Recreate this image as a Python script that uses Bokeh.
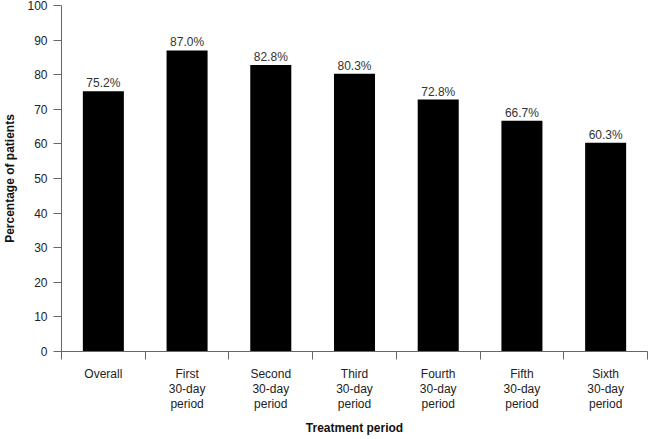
from bokeh.plotting import figure
from bokeh.models import Range1d, FixedTicker, ColumnDataSource
from bokeh.embed import file_html
from bokeh.resources import INLINE
from bokeh.core.properties import value

categories = ["Overall", "First\n30-day\nperiod", "Second\n30-day\nperiod", "Third\n30-day\nperiod",
              "Fourth\n30-day\nperiod", "Fifth\n30-day\nperiod", "Sixth\n30-day\nperiod"]
percentages = [75.2, 87.0, 82.8, 80.3, 72.8, 66.7, 60.3]
y_ticks = [0, 10, 20, 30, 40, 50, 60, 70, 80, 90, 100]

xs = [i + 0.5 for i in range(len(categories))]
src = ColumnDataSource(dict(x=xs, y=percentages, lab=[f"{v:.1f}%" for v in percentages]))

FONT = "Liberation Sans"
AX = "#666666"

p = figure(width=648, height=438, output_backend="svg", toolbar_location=None,
           x_range=Range1d(0, len(categories)), y_range=Range1d(0, 100),
           min_border_left=59, min_border_right=1, min_border_top=5, min_border_bottom=0)
p.outline_line_color = None
p.xgrid.visible = False
p.ygrid.visible = False

p.vbar(x="x", top="y", width=0.49, bottom=0, source=src, fill_color="black", line_color=None)
p.text(x="x", y="y", text="lab", source=src, text_align="center", text_baseline="bottom",
       y_offset=-1, text_font=value(FONT), text_font_size="12px", text_color="#333333")

xa = p.xaxis[0]
xa.ticker = FixedTicker(ticks=xs, minor_ticks=list(range(len(categories) + 1)))
xa.major_label_overrides = {x: c for x, c in zip(xs, categories)}
xa.major_tick_out = 0
xa.major_tick_in = 0
xa.minor_tick_out = 8
xa.minor_tick_in = 0
xa.minor_tick_line_color = AX
xa.axis_line_color = AX
xa.major_label_standoff = 7
xa.major_label_text_font = FONT
xa.major_label_text_font_size = "12px"
xa.major_label_text_color = "#222222"
xa.major_label_text_line_height = 1.1
xa.axis_label = "Treatment period"
xa.axis_label_text_font = FONT
xa.axis_label_text_font_size = "12px"
xa.axis_label_text_font_style = "bold"
xa.axis_label_text_color = "#111111"
xa.axis_label_standoff = 7

ya = p.yaxis[0]
ya.ticker = FixedTicker(ticks=y_ticks)
ya.minor_tick_line_color = None
ya.major_tick_out = 8
ya.major_tick_in = 0
ya.major_tick_line_color = AX
ya.axis_line_color = AX
ya.major_label_standoff = 6
ya.major_label_text_font = FONT
ya.major_label_text_font_size = "12px"
ya.major_label_text_color = "#222222"
ya.axis_label = "Percentage of patients"
ya.axis_label_text_font = FONT
ya.axis_label_text_font_size = "12px"
ya.axis_label_text_font_style = "bold"
ya.axis_label_text_color = "#111111"
ya.axis_label_standoff = 7

open("out.html", "w").write(file_html(p, INLINE))
